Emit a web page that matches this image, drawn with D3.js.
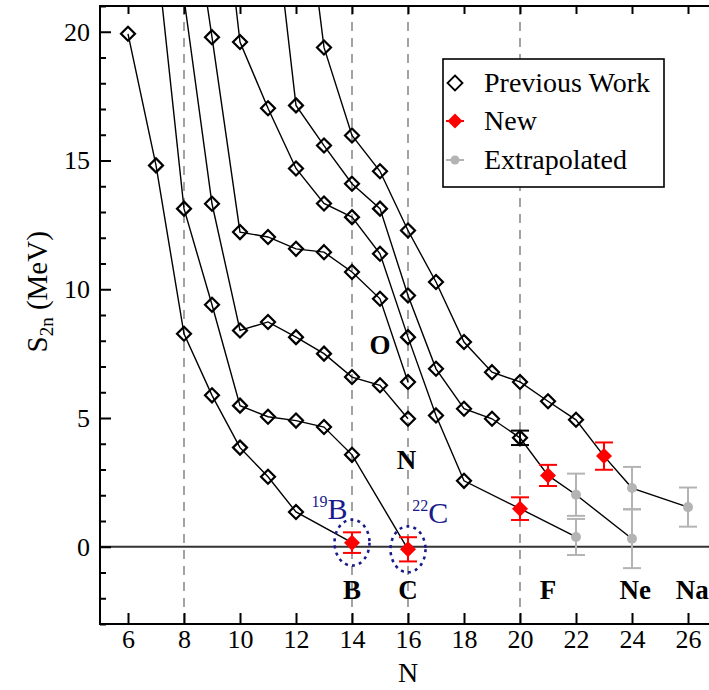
<!DOCTYPE html>
<html><head><meta charset="utf-8">
<script src="https://cdn.jsdelivr.net/npm/d3@7"></script>
<style>body{margin:0;background:#fff}text{font-family:"Liberation Serif","Times New Roman",Times,serif}</style>
</head><body><svg id="c" width="709" height="690"></svg>
<script>
// ---- data ----
const xTicks = [6,8,10,12,14,16,18,20,22,24,26];
const yTicks = [0,5,10,15,20];
const magicN = [8,14,16,20];

const chainNames = ["B","C","N","O","F","Ne","Na"];
const nB  = [6,7,8,9,10,11,12];
const sB  = [19.92,14.81,8.27,5.88,3.85,2.72,1.35];
const nC  = [7,8,9,10,11,12,13,14];
const sC  = [23.3,13.13,9.40,5.48,5.05,4.90,4.65,3.57];
const nN  = [8,9,10,11,12,13,14,15,16];
const sN  = [21.3,13.32,8.40,8.73,8.14,7.50,6.59,6.27,4.97];
const nO  = [8,9,10,11,12,13,14,15,16];
const sO  = [27.1,19.79,12.22,12.03,11.57,11.44,10.67,9.63,6.40];
const nF  = [9,10,11,12,13,14,15,16,17,18];
const sF  = [29.1,19.60,17.03,14.69,13.33,12.80,11.38,8.14,5.10,2.56];
const nNe = [11,12,13,14,15,16,17,18,19,20];
const sNe = [26.6,17.14,15.58,14.10,13.13,9.76,6.91,5.36,4.97,4.23];
const nNa = [12,13,14,15,16,17,18,19,20,21,22];
const sNa = [28.1,19.39,15.97,14.58,12.28,10.28,7.95,6.78,6.40,5.65,4.93];

// previous-work point with a visible error bar
const prevErrN = [20];
const prevErrS = [4.23];
const prevErrV = [0.28];

// new measurements
const newN     = [14,16,20,21,23];
const newS     = [0.16,-0.10,1.48,2.77,3.52];
const newErr   = [0.40,0.47,0.44,0.41,0.53];
const newChain = ["B","C","F","Ne","Na"];

// extrapolated values
const extN     = [22,22,24,24,26];
const extS     = [2.02,0.38,2.28,0.31,1.54];
const extErr   = [0.82,0.70,0.82,1.14,0.76];
const extChain = ["Ne","F","Na","Ne","Na"];

const legendLabels = ["Previous Work","New","Extrapolated"];

// ---- build ----
const prevChains = {B:[nB,sB],C:[nC,sC],N:[nN,sN],O:[nO,sO],F:[nF,sF],Ne:[nNe,sNe],Na:[nNa,sNa]};
const chains = chainNames.map(name=>{
  const [ns,ss]=prevChains[name];
  const pts = ns.map((n,i)=>({n,s:ss[i]}));
  newN.forEach((n,i)=>{ if(newChain[i]===name) pts.push({n,s:newS[i]}); });
  extN.forEach((n,i)=>{ if(extChain[i]===name) pts.push({n,s:extS[i]}); });
  pts.sort((a,b)=>a.n-b.n);
  return {name,pts};
});
const prevPts = chainNames.flatMap(name=>{const [ns,ss]=prevChains[name];return ns.map((n,i)=>({n,s:ss[i]}));});
const newPts = newN.map((n,i)=>({n,s:newS[i],e:newErr[i]}));
const extPts = extN.map((n,i)=>({n,s:extS[i],e:extErr[i]}));
const prevErrPts = prevErrN.map((n,i)=>({n,s:prevErrS[i],e:prevErrV[i]}));

const svg = d3.select("#c");
const L=100,T=6,R=716,B=624;
const x = d3.scaleLinear().domain([5,27]).range([L,R]);
const y = d3.scaleLinear().domain([-3,21]).range([B,T]);

svg.append("defs").append("clipPath").attr("id","clip")
  .append("rect").attr("x",L).attr("y",T).attr("width",R-L).attr("height",B-T);

const plot = svg.append("g").attr("clip-path","url(#clip)");

// dashed magic-number lines
plot.selectAll("line.magic").data(magicN).join("line")
  .attr("x1",d=>x(d)).attr("x2",d=>x(d)).attr("y1",T).attr("y2",B)
  .attr("stroke","#8c8c8c").attr("stroke-width",1.6).attr("stroke-dasharray","9,7");

// zero line
plot.append("line").attr("x1",L).attr("x2",R).attr("y1",y(0)).attr("y2",y(0))
  .attr("stroke","#333").attr("stroke-width",2);

// chain lines
const line = d3.line().x(d=>x(d.n)).y(d=>y(d.s));
plot.selectAll("path.chain").data(chains).join("path")
  .attr("d",d=>line(d.pts)).attr("fill","none").attr("stroke","#000").attr("stroke-width",1.4);

// error bars
function errBars(data,color,w){
  const g = plot.append("g").attr("stroke",color).attr("stroke-width",w);
  data.forEach(d=>{
    g.append("line").attr("x1",x(d.n)).attr("x2",x(d.n)).attr("y1",y(d.s+d.e)).attr("y2",y(d.s-d.e));
    [d.s+d.e,d.s-d.e].forEach(v=>g.append("line").attr("x1",x(d.n)-9).attr("x2",x(d.n)+9).attr("y1",y(v)).attr("y2",y(v)));
  });
}
errBars(extPts,"#b4b4b4",2);
errBars(newPts,"#ff0000",2);
errBars(prevErrPts,"#000",2);

const dia = r=>`M0,${-r}L${r},0L0,${r}L${-r},0Z`;
// previous markers
plot.selectAll("path.prev").data(prevPts).join("path")
  .attr("d",dia(7)).attr("transform",d=>`translate(${x(d.n)},${y(d.s)})`)
  .attr("fill","none").attr("stroke","#000").attr("stroke-width",2.2);
// extrapolated
plot.selectAll("circle.ext").data(extPts).join("circle")
  .attr("cx",d=>x(d.n)).attr("cy",d=>y(d.s)).attr("r",5).attr("fill","#b4b4b4");
// new
plot.selectAll("path.new").data(newPts).join("path")
  .attr("d",dia(8)).attr("transform",d=>`translate(${x(d.n)},${y(d.s)})`)
  .attr("fill","#ff0000");

// dotted ellipses around 19B and 22C
const navy="#1a1a8a";
[0,1].forEach(i=>{
  plot.append("ellipse").attr("cx",x(newN[i])).attr("cy",y(newS[i])).attr("rx",17.5).attr("ry",23)
    .attr("fill","none").attr("stroke",navy).attr("stroke-width",2.6).attr("stroke-dasharray","3,4.2");
});
function isoLabel(px,py,mass,el){
  const t = svg.append("text").attr("x",px).attr("y",py).attr("fill",navy).attr("font-size",30);
  t.append("tspan").text(mass).attr("font-size",16).attr("dy",-12);
  t.append("tspan").text(el).attr("dy",12);
}
isoLabel(x(12.55),y(1.08),"19","B");
isoLabel(x(16.15),y(0.93),"22","C");

// element labels
const elLabels=[["B",14,-2.03],["C",16,-2.03],["F",21,-2.03],["Ne",24.12,-2.03],["Na",26.15,-2.03],["O",15.0,7.5],["N",15.95,3.03]];
svg.selectAll("text.el").data(elLabels).join("text")
  .attr("x",d=>x(d[1])).attr("y",d=>y(d[2])).attr("text-anchor","middle")
  .attr("font-weight","bold").attr("font-size",27).text(d=>d[0]);

// axes
const yMinor = d3.range(-3,22);
const gy = svg.append("g").attr("transform",`translate(${L},0)`)
  .call(d3.axisLeft(y).tickValues(yMinor).tickSizeInner(-6).tickSizeOuter(0).tickPadding(10)
    .tickFormat(d=>yTicks.includes(d)?d:""));
gy.selectAll(".tick line").attr("x2",d=>yTicks.includes(d)?11:6).attr("stroke-width",2);
const gb = svg.append("g").attr("transform",`translate(0,${B})`)
  .call(d3.axisBottom(x).tickValues(xTicks).tickSizeInner(-11).tickSizeOuter(0).tickPadding(6));
gb.selectAll(".tick line").attr("stroke-width",2);
const gt = svg.append("g").attr("transform",`translate(0,${T})`)
  .call(d3.axisTop(x).tickValues(xTicks).tickSizeInner(-8).tickSizeOuter(0).tickFormat(""));
gt.selectAll(".tick line").attr("stroke-width",2);
[gy,gb,gt].forEach(g=>{
  g.selectAll(".domain").remove();
  g.selectAll("text").attr("font-family","'Liberation Serif','Times New Roman',serif").attr("font-size",26).attr("fill","#000");
});
svg.append("rect").attr("x",L).attr("y",T).attr("width",R-L).attr("height",B-T)
  .attr("fill","none").attr("stroke","#000").attr("stroke-width",2);

// axis titles
svg.append("text").attr("x",x(16)).attr("y",682).attr("text-anchor","middle").attr("font-size",28).text("N");
const yt = svg.append("text").attr("transform",`translate(47,${y(9.9)}) rotate(-90)`).attr("text-anchor","middle").attr("font-size",29);
yt.append("tspan").text("S");
yt.append("tspan").text("2n").attr("font-size",19).attr("dy",6);
yt.append("tspan").text(" (MeV)").attr("dy",-6);

// legend
const lg = svg.append("g");
lg.append("rect").attr("x",443).attr("y",59).attr("width",221).attr("height",128)
  .attr("fill","#fff").attr("stroke","#000").attr("stroke-width",1.6);
const ly=[83,121,160];
lg.append("path").attr("d",dia(7.5)).attr("transform",`translate(455,${ly[0]})`).attr("fill","none").attr("stroke","#000").attr("stroke-width",1.8);
lg.append("line").attr("x1",446).attr("x2",464).attr("y1",ly[1]).attr("y2",ly[1]).attr("stroke","#ff0000").attr("stroke-width",2);
lg.append("path").attr("d",dia(7.5)).attr("transform",`translate(455,${ly[1]})`).attr("fill","#ff0000");
lg.append("line").attr("x1",446).attr("x2",464).attr("y1",ly[2]).attr("y2",ly[2]).attr("stroke","#b4b4b4").attr("stroke-width",2);
lg.append("circle").attr("cx",455).attr("cy",ly[2]).attr("r",4.5).attr("fill","#b4b4b4");
lg.selectAll("text").data(legendLabels).join("text")
  .attr("x",484).attr("y",(d,i)=>ly[i]+9).attr("font-size",28).text(d=>d);
</script></body></html>
